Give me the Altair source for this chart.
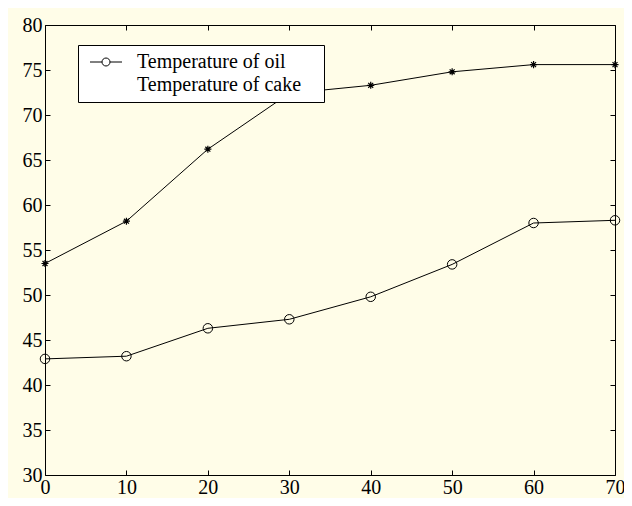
import altair as alt
import pandas as pd

minutes = [0, 10, 20, 30, 40, 50, 60, 70]
oil = [42.9, 43.2, 46.3, 47.3, 49.8, 53.4, 58.0, 58.3]
cake = [53.5, 58.2, 66.2, 72.4, 73.3, 74.8, 75.6, 75.6]
labels = ["Temperature of oil", "Temperature of cake"]
x_ticks = [0, 10, 20, 30, 40, 50, 60, 70]
y_ticks = [30, 35, 40, 45, 50, 55, 60, 65, 70, 75, 80]

rows = []
for t, v in zip(minutes, oil):
    rows.append({"t": t, "v": v, "series": labels[0]})
for t, v in zip(minutes, cake):
    rows.append({"t": t, "v": v, "series": labels[1]})
df = pd.DataFrame(rows)

FONT = "Liberation Serif"
BG = "#FFFDE8"

xs = alt.Scale(domain=[0, 70], nice=False)
ys = alt.Scale(domain=[30, 80], nice=False)

def ax(orient, values, show_labels):
    kw = dict(orient=orient, values=values, offset=-5, tickSize=5, domain=False,
              grid=False, title=None, tickColor="black", tickWidth=1,
              labelFlush=False, labelOverlap=False)
    if show_labels:
        kw.update(labelFont=FONT, labelFontSize=20, labelColor="black",
                  labelPadding=2 if orient == "bottom" else 3)
    else:
        kw.update(labels=False)
    return alt.Axis(**kw)

base = alt.Chart(df)

lines = base.mark_line(color="black", strokeWidth=1).encode(
    x=alt.X("t:Q", scale=xs, axis=ax("top", x_ticks, False)),
    y=alt.Y("v:Q", scale=ys, axis=ax("right", y_ticks, False)),
    detail="series:N",
)

oil_pts = base.transform_filter(alt.datum.series == labels[0]).mark_point(
    shape="circle", size=90, filled=False, color="black", strokeWidth=1, opacity=1
).encode(
    x=alt.X("t:Q", scale=xs, axis=ax("bottom", x_ticks, True)),
    y=alt.Y("v:Q", scale=ys, axis=ax("left", y_ticks, True)),
)

asterisk = "M-1,0L1,0M0,-1L0,1M-0.7,-0.7L0.7,0.7M-0.7,0.7L0.7,-0.7"
cake_pts = base.transform_filter(alt.datum.series == labels[1]).mark_point(
    shape=asterisk, size=50, filled=False, color="black", strokeWidth=1.2, opacity=1
).encode(
    x=alt.X("t:Q", scale=xs, axis=None),
    y=alt.Y("v:Q", scale=ys, axis=None),
)

legend_sym = "M-2,0H-0.5M0.5,0H2M0.5,0A0.5,0.5 0 1,1 -0.5,0A0.5,0.5 0 1,1 0.5,0"
legend_layer = base.mark_point(filled=False, color="black", opacity=0).encode(
    x=alt.X("t:Q", scale=xs, axis=None),
    y=alt.Y("v:Q", scale=ys, axis=None),
    shape=alt.Shape(
        "series:N",
        scale=alt.Scale(domain=labels, range=[legend_sym, "M0,0"]),
        legend=alt.Legend(
            title=None, orient="none", legendX=33, legendY=20,
            padding=7, fillColor="white", strokeColor="black",
            labelFont=FONT, labelFontSize=20, labelColor="black",
            labelLimit=400,
            labelExpr="datum.label + '\u2800'",
            symbolSize=256, symbolStrokeWidth=1, symbolStrokeColor="black",
            symbolFillColor="white", symbolOpacity=1,
            symbolOffset=11, labelOffset=21, rowPadding=3,
        ),
    ),
)

chart = (
    alt.layer(lines, oil_pts, cake_pts, legend_layer)
    .resolve_axis(x="independent", y="independent")
    .properties(
        width=570, height=450, background=BG,
        autosize=alt.AutoSizeParams(type="none"),
        padding={"left": 37, "top": 17, "right": 9, "bottom": 23},
    )
    .configure_view(stroke="black", strokeWidth=1, fill=BG)
)

chart.save("out.html", embed_options={"renderer": "svg", "actions": False})
